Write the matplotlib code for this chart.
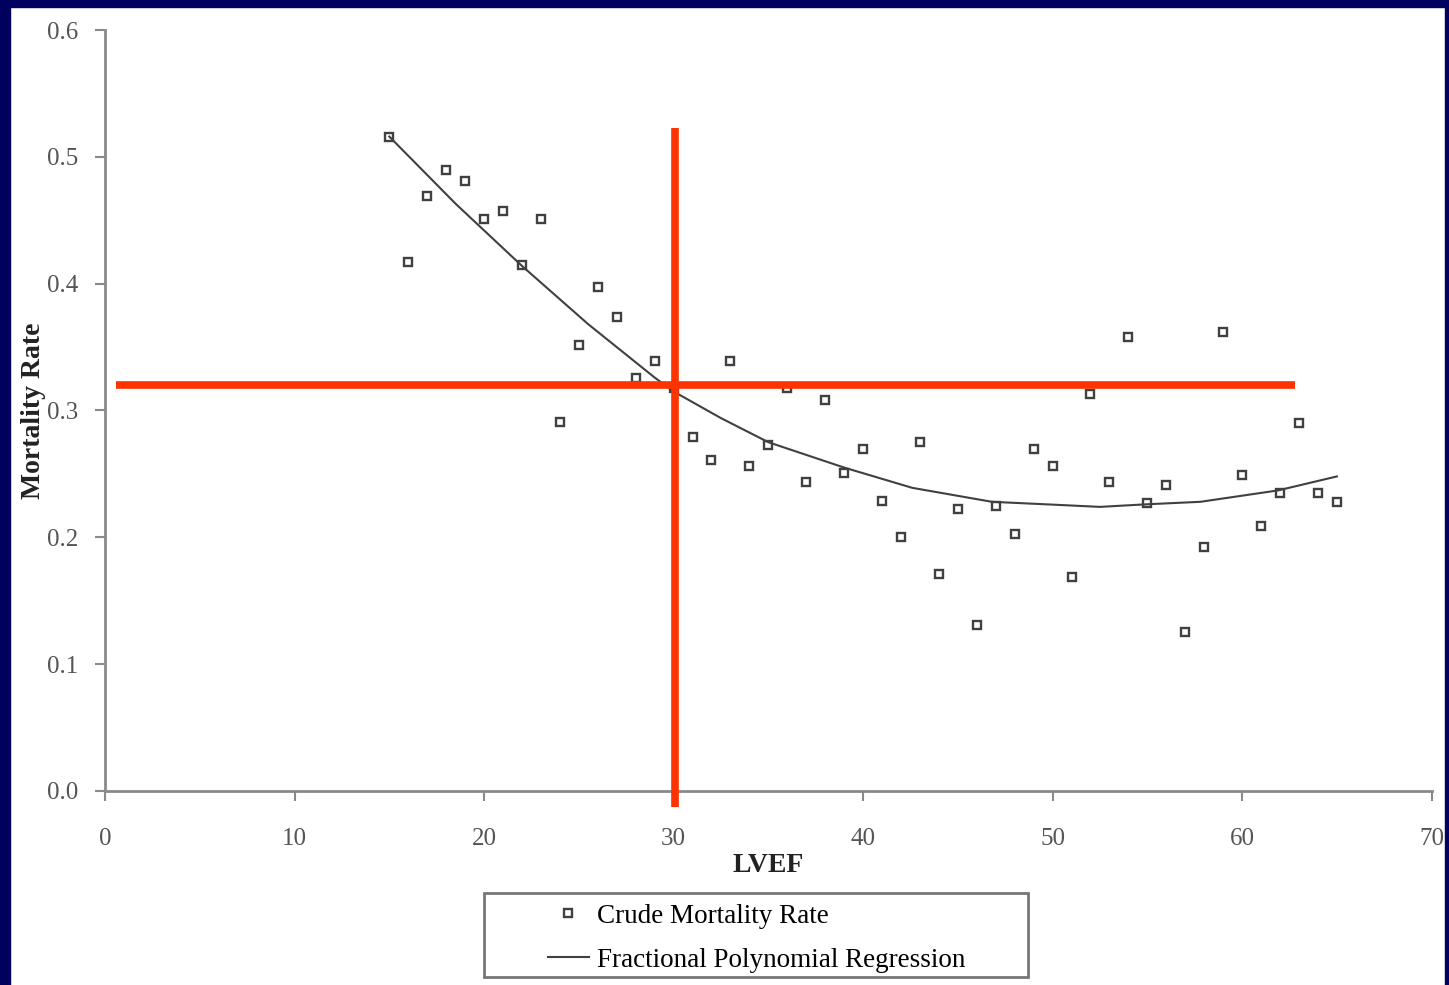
import matplotlib.pyplot as plt
from matplotlib.patches import Rectangle

# crude mortality by LVEF (%)
lvef = list(range(15, 66))
mortality = [0.516, 0.417, 0.469, 0.490, 0.481, 0.451, 0.457, 0.415, 0.451, 0.291,
             0.352, 0.397, 0.374, 0.326, 0.339, 0.318, 0.279, 0.261, 0.339, 0.256,
             0.273, 0.318, 0.244, 0.308, 0.251, 0.270, 0.229, 0.200, 0.275, 0.171,
             0.222, 0.131, 0.225, 0.203, 0.270, 0.256, 0.169, 0.313, 0.244, 0.358,
             0.227, 0.241, 0.125, 0.192, 0.362, 0.249, 0.209, 0.235, 0.290, 0.235,
             0.228]

# fractional polynomial fit
fit_x = [15, 18.5, 22, 25.5, 29, 30, 32.5, 35, 39, 42.6, 46.8, 50.4, 52.5, 54.9, 57.8, 61.9, 65]
fit_y = [0.516, 0.463, 0.414, 0.368, 0.326, 0.315, 0.294, 0.275, 0.255, 0.239, 0.228,
         0.2255, 0.224, 0.226, 0.228, 0.237, 0.248]

cut_lvef = 30
cut_rate = 0.32

plt.rcParams['font.family'] = ['Liberation Serif', 'DejaVu Serif']

W, H = 1449, 985
fig = plt.figure(figsize=(W / 100, H / 100), dpi=100)
ax = fig.add_axes([0.0725, 0.197, 0.9155, 0.7725])

ax.plot(lvef, mortality, linestyle='none', marker='s', markersize=6,
        markerfacecolor='white', markeredgecolor='#404040', markeredgewidth=1.7,
        label='Crude Mortality Rate', zorder=3)
ax.plot(fit_x, fit_y, color='#404040', linewidth=1.5,
        label='Fractional Polynomial Regression', zorder=3)

# cut-off lines
ax.plot([0.6, 62.8], [cut_rate, cut_rate], color='#ff3300', linewidth=5.5,
        solid_capstyle='butt', zorder=4)
ax.plot([cut_lvef + 0.1, cut_lvef + 0.1], [-0.013, 0.523], color='#ff3300',
        linewidth=5.5, solid_capstyle='butt', zorder=4, clip_on=False)

ax.set_xlim(0, 70)
ax.set_ylim(0, 0.6)
ax.set_xticks(range(0, 71, 10))
ax.set_yticks([0.0, 0.1, 0.2, 0.3, 0.4, 0.5, 0.6])
ax.set_yticklabels(['0.0', '0.1', '0.2', '0.3', '0.4', '0.5', '0.6'])

for s in ['top', 'right']:
    ax.spines[s].set_visible(False)
for s in ['left', 'bottom']:
    ax.spines[s].set_color('#8a8a8a')
    ax.spines[s].set_linewidth(2)
ax.tick_params(colors='#8a8a8a', labelcolor='#555555', labelsize=18,
               length=7, width=1.5)
ax.tick_params(axis='x', pad=20)
ax.tick_params(axis='y', pad=12)

ax.set_xlabel('LVEF', fontsize=20, fontweight='bold', color='#222222', labelpad=2)
ax.set_ylabel('Mortality Rate', fontsize=20, fontweight='bold', color='#222222', labelpad=1)

# legend without its own frame; the box is drawn separately
leg = fig.legend(loc='upper left', bbox_to_anchor=(529 / W, 1 - 885 / H), fontsize=19.5,
                 frameon=False, handlelength=1.5, handletextpad=0.3,
                 borderpad=0.2, labelspacing=0.7)
fig.patches.append(Rectangle((484 / W, 1 - 977 / H), (1028 - 484) / W, (977 - 893) / H,
                             transform=fig.transFigure, fill=False,
                             edgecolor='#777777', linewidth=2))

# navy border round the slide
navy = '#00005e'
fig.patches.append(Rectangle((0, 0), 10 / W, 1, transform=fig.transFigure, color=navy))
fig.patches.append(Rectangle((0, 1 - 7 / H), 1, 7 / H, transform=fig.transFigure, color=navy))
fig.patches.append(Rectangle((1 - 4 / W, 0), 4 / W, 1, transform=fig.transFigure, color=navy))

fig.savefig('out.png', dpi=100)
